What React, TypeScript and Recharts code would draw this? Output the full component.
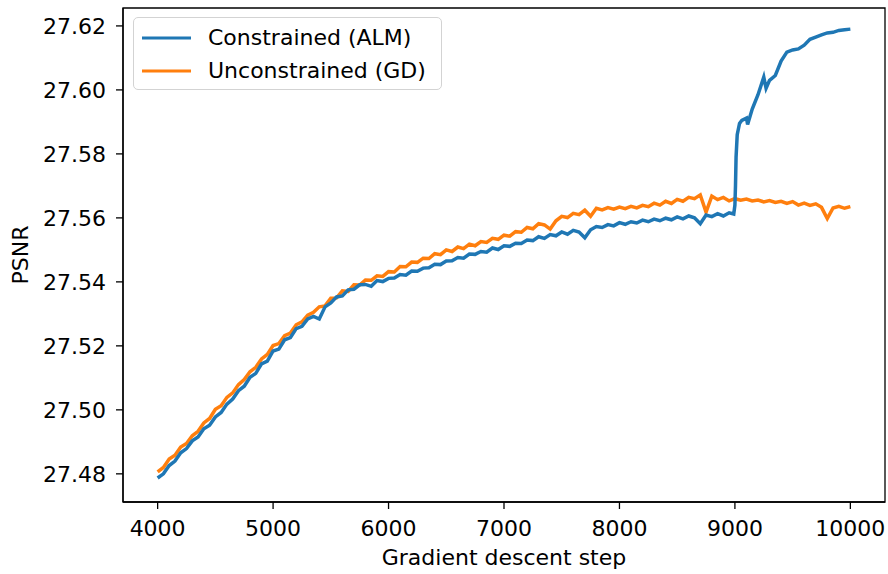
import { LineChart, Line, XAxis, YAxis, Legend, ReferenceArea } from 'recharts'

const blueColor = '#1f77b4'
const orangeColor = '#ff7f0e'

const xTicks = [4000, 5000, 6000, 7000, 8000, 9000, 10000]
const yTicks = [27.48, 27.5, 27.52, 27.54, 27.56, 27.58, 27.6, 27.62]
const xDomain = [3700, 10300]
const yDomain = [27.4712, 27.6256]

// Constrained (ALM)
const almSteps = [
  4000, 4050, 4100, 4150, 4200, 4250, 4300, 4350, 4400, 4450,
  4500, 4550, 4600, 4650, 4700, 4750, 4800, 4850, 4900, 4950,
  5000, 5050, 5100, 5150, 5200, 5250, 5300, 5350, 5400, 5450,
  5500, 5550, 5600, 5650, 5700, 5750, 5800, 5850, 5900, 5950,
  6000, 6050, 6100, 6150, 6200, 6250, 6300, 6350, 6400, 6450,
  6500, 6550, 6600, 6650, 6700, 6750, 6800, 6850, 6900, 6950,
  7000, 7050, 7100, 7150, 7200, 7250, 7300, 7350, 7400, 7450,
  7500, 7550, 7600, 7650, 7700, 7750, 7800, 7850, 7900, 7950,
  8000, 8050, 8100, 8150, 8200, 8250, 8300, 8350, 8400, 8450,
  8500, 8550, 8600, 8650, 8700, 8750, 8800, 8850, 8900, 8950,
  8990, 9000, 9005, 9010, 9020, 9040, 9060, 9100, 9110, 9150,
  9200, 9250, 9270, 9300, 9350, 9400, 9450, 9500, 9550, 9600,
  9650, 9700, 9750, 9800, 9850, 9900, 9950, 10000
]
const almPsnr = [
  27.4787, 27.48, 27.4826, 27.484, 27.4866, 27.4879, 27.4903, 27.4915, 27.4941, 27.4952,
  27.4978, 27.4992, 27.5018, 27.5034, 27.506, 27.5074, 27.5102, 27.5114, 27.5144, 27.5152,
  27.5184, 27.519, 27.5219, 27.5226, 27.5254, 27.5261, 27.5284, 27.5292, 27.5284, 27.5322,
  27.5334, 27.5353, 27.5356, 27.5375, 27.5377, 27.5391, 27.5392, 27.5386, 27.5404, 27.5401,
  27.5411, 27.5412, 27.5423, 27.5421, 27.5434, 27.5433, 27.5443, 27.5444, 27.5455, 27.5454,
  27.5465, 27.5466, 27.5476, 27.5474, 27.5487, 27.5486, 27.5495, 27.5493, 27.5506, 27.5501,
  27.5513, 27.5511, 27.5521, 27.552, 27.5531, 27.5529, 27.5541, 27.5536, 27.5548, 27.5544,
  27.5556, 27.5549, 27.5561, 27.5556, 27.5538, 27.5563, 27.5573, 27.557, 27.5579, 27.5575,
  27.5585, 27.558, 27.5588, 27.5584, 27.5593, 27.5588, 27.5596, 27.5591, 27.5599, 27.5594,
  27.5603, 27.5597, 27.5606, 27.56, 27.5582, 27.5609, 27.5604, 27.5613, 27.5606, 27.5616,
  27.5612, 27.564, 27.57, 27.579, 27.586, 27.5895, 27.5905, 27.5912, 27.5892, 27.594,
  27.5985, 27.604, 27.6005, 27.603, 27.6045, 27.609, 27.6118, 27.6125, 27.6128, 27.614,
  27.6158, 27.6165, 27.6172, 27.6178, 27.618, 27.6186, 27.6188, 27.619
]

// Unconstrained (GD)
const gdSteps = [
  4000, 4050, 4100, 4150, 4200, 4250, 4300, 4350, 4400, 4450,
  4500, 4550, 4600, 4650, 4700, 4750, 4800, 4850, 4900, 4950,
  5000, 5050, 5100, 5150, 5200, 5250, 5300, 5350, 5400, 5450,
  5500, 5550, 5600, 5650, 5700, 5750, 5800, 5850, 5900, 5950,
  6000, 6050, 6100, 6150, 6200, 6250, 6300, 6350, 6400, 6450,
  6500, 6550, 6600, 6650, 6700, 6750, 6800, 6850, 6900, 6950,
  7000, 7050, 7100, 7150, 7200, 7250, 7300, 7350, 7400, 7450,
  7500, 7550, 7600, 7650, 7700, 7750, 7800, 7850, 7900, 7950,
  8000, 8050, 8100, 8150, 8200, 8250, 8300, 8350, 8400, 8450,
  8500, 8550, 8600, 8650, 8700, 8750, 8800, 8850, 8900, 8950,
  9000, 9050, 9100, 9150, 9200, 9250, 9300, 9350, 9400, 9450,
  9500, 9550, 9600, 9650, 9700, 9750, 9800, 9850, 9900, 9950,
  10000
]
const gdPsnr = [
  27.4806, 27.482, 27.4846, 27.4858, 27.4884, 27.4895, 27.4919, 27.4933, 27.4959, 27.4973,
  27.5002, 27.5013, 27.5039, 27.5053, 27.5079, 27.5095, 27.5119, 27.5133, 27.5159, 27.5173,
  27.5201, 27.5207, 27.5232, 27.524, 27.5266, 27.5275, 27.5296, 27.5305, 27.5322, 27.5325,
  27.5349, 27.535, 27.5372, 27.537, 27.5391, 27.539, 27.5406, 27.5405, 27.5419, 27.5417,
  27.5432, 27.5431, 27.5448, 27.5447, 27.5462, 27.5461, 27.5474, 27.5473, 27.5488, 27.5485,
  27.55, 27.5495, 27.5509, 27.5504, 27.5518, 27.5513, 27.5526, 27.5523, 27.5536, 27.5533,
  27.5546, 27.5543, 27.5557, 27.5555, 27.557, 27.5566, 27.5582, 27.5578, 27.5565, 27.5591,
  27.5605, 27.5601, 27.5614, 27.561, 27.5624, 27.5605, 27.563, 27.5625, 27.5632, 27.5627,
  27.5634, 27.5629, 27.5636, 27.5631, 27.5639, 27.5635, 27.5646, 27.564, 27.5652, 27.5645,
  27.5658, 27.5652, 27.5664, 27.566, 27.5672, 27.5618, 27.5668, 27.5657, 27.5664, 27.5653,
  27.566, 27.5655, 27.5659, 27.5653, 27.5656, 27.565, 27.5654, 27.5648, 27.5652, 27.5645,
  27.5651, 27.564, 27.5646, 27.5639, 27.5644, 27.5633, 27.5598, 27.5631, 27.5636, 27.563,
  27.5635
]

const almData = almSteps.map((step, i) => ({ step, psnr: almPsnr[i] }))
const gdData = gdSteps.map((step, i) => ({ step, psnr: gdPsnr[i] }))

const font = '"DejaVu Sans", Verdana, sans-serif'
const tickStyle = { fontSize: 22, fill: '#000', fontFamily: font }

const seriesLegend = [
  { name: 'Constrained (ALM)', color: blueColor },
  { name: 'Unconstrained (GD)', color: orangeColor }
]

function LegendBox() {
  return (
    <div
      style={{
        width: 309,
        height: 73,
        border: '1px solid #d3d3d3',
        borderRadius: 5,
        background: 'rgba(255,255,255,0.8)',
        fontFamily: font,
        fontSize: 22,
        boxSizing: 'border-box',
        paddingTop: 3
      }}>
      {seriesLegend.map((s) => (
        <div key={s.name} style={{ display: 'flex', alignItems: 'center', height: 33 }}>
          <svg width={66} height={10} style={{ marginLeft: 8, flexShrink: 0 }}>
            <line x1={0} x2={49} y1={5} y2={5} stroke={s.color} strokeWidth={3} />
          </svg>
          <span>{s.name}</span>
        </div>
      ))}
    </div>
  )
}

export default function App() {
  return (
    <div style={{ position: 'absolute', left: 0, top: 0, width: 888, height: 574, background: '#fff' }}>
      <LineChart
        width={888}
        height={574}
        margin={{ top: 8, right: 3, left: 0, bottom: 0 }}>
        <XAxis
          dataKey="step"
          type="number"
          domain={xDomain}
          ticks={xTicks}
          allowDataOverflow
          height={72}
          tickSize={7}
          tickMargin={11}
          tick={tickStyle}
          axisLine={{ stroke: '#000', strokeWidth: 1.3 }}
          tickLine={{ stroke: '#000', strokeWidth: 1.3 }}
          label={{
            value: 'Gradient descent step',
            position: 'insideBottom',
            offset: 9,
            style: { fontSize: 22, fill: '#000', fontFamily: font }
          }}
        />
        <YAxis
          type="number"
          domain={yDomain}
          ticks={yTicks}
          allowDataOverflow
          width={123}
          tickSize={7}
          tickMargin={10}
          tick={tickStyle}
          tickFormatter={(v: number) => v.toFixed(2)}
          axisLine={{ stroke: '#000', strokeWidth: 1.3 }}
          tickLine={{ stroke: '#000', strokeWidth: 1.3 }}
          label={{
            value: 'PSNR',
            angle: -90,
            position: 'insideLeft',
            offset: 20,
            style: { fontSize: 22, fill: '#000', fontFamily: font, textAnchor: 'middle' }
          }}
        />
        <ReferenceArea
          x1={xDomain[0]}
          x2={xDomain[1]}
          y1={yDomain[0]}
          y2={yDomain[1]}
          fill="none"
          fillOpacity={0}
          stroke="#000"
          strokeWidth={1.3}
          ifOverflow="visible"
        />
        <Legend
          layout="vertical"
          align="center"
          verticalAlign="middle"
          content={() => <LegendBox />}
          wrapperStyle={{ position: 'absolute', left: 133, top: 17, width: 309 }}
        />
        <Line
          data={gdData}
          dataKey="psnr"
          type="linear"
          stroke={orangeColor}
          strokeWidth={3.5}
          dot={false}
          isAnimationActive={false}
        />
        <Line
          data={almData}
          dataKey="psnr"
          type="linear"
          stroke={blueColor}
          strokeWidth={3.5}
          dot={false}
          isAnimationActive={false}
        />
      </LineChart>
    </div>
  )
}
